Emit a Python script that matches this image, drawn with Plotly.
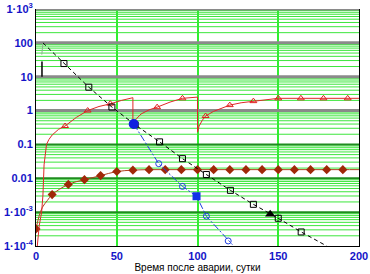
import plotly.graph_objects as go

# ---------------- data ----------------
# black dashed line with open squares
black_days = [4.3, 17.3, 32.7, 47.0, 61.4, 76.5, 90.7, 105.5, 120.4, 134.6, 150.0, 164.2, 180.0]
black_vals = [100, 24.5, 4.9, 1.27, 0.38, 0.119, 0.038, 0.0129, 4.4e-3, 1.7e-3, 6.6e-4, 2.6e-4, 1.0e-4]
black_sq_days = [17.3, 32.7, 47.0, 61.4, 76.5, 90.7, 105.5, 120.4, 134.6, 150.0, 164.2]
black_sq_vals = [24.5, 4.9, 1.27, 0.38, 0.119, 0.038, 0.0129, 4.4e-3, 1.7e-3, 6.6e-4, 2.6e-4]

# blue dash-dot line with open circles
blue_days = [60.5, 76.0, 90.7, 99.4, 105.5, 119.0, 121.6]
blue_vals = [0.4, 0.027, 5.75e-3, 2.95e-3, 7.6e-4, 1.41e-4, 1.1e-4]
blue_circ_days = [76.0, 90.7, 105.5, 119.0]
blue_circ_vals = [0.027, 5.75e-3, 7.6e-4, 1.41e-4]

# red sawtooth with open triangles
red_days = [0.8, 2, 3.5, 4.3, 5, 5.7, 6.5, 8, 10, 14, 18, 25, 32, 39, 46, 53, 58.6, 60, 60,
            62, 65, 70, 75, 83, 90.7, 100, 100, 101, 103, 105, 110, 115, 120, 127, 134.6,
            142, 150, 200]
red_vals = [1e-4, 4e-4, 1e-3, 3.2e-3, 0.025, 0.063, 0.1, 0.14, 0.19, 0.28, 0.35, 0.63, 1.0,
            1.32, 1.58, 2.0, 2.4, 2.4, 0.4, 0.56, 0.79, 1.05, 1.26, 1.78, 2.3, 2.5, 0.23,
            0.35, 0.52, 0.69, 0.95, 1.2, 1.45, 1.7, 1.9, 2.14, 2.3, 2.3]
red_tri_days = [18, 32, 46, 75, 90.7, 105, 120, 134.6, 150, 164, 178, 193]
red_tri_vals = [0.35, 1.0, 1.6, 1.26, 2.3, 0.69, 1.45, 1.9, 2.3, 2.3, 2.3, 2.3]

# brown line with filled diamonds
brown_days = [0, 2, 4, 7, 10, 20, 30, 40, 50, 60, 70, 80, 90, 100, 110, 120, 130, 140, 150,
              160, 170, 180, 190, 200]
brown_vals = [3.2e-4, 7.9e-4, 1.4e-3, 2.2e-3, 3.3e-3, 6.6e-3, 9.1e-3, 0.012, 0.0158, 0.0174,
              0.018, 0.018, 0.018, 0.018, 0.018, 0.018, 0.018, 0.018, 0.018, 0.018, 0.018,
              0.018, 0.018, 0.018]
brown_dia_days = [0, 10, 20, 30, 40, 50, 60, 70, 80, 90, 100, 110, 120, 130, 140, 150, 160,
                  170, 180, 190]
brown_dia_vals = [3.2e-4, 3.3e-3, 6.6e-3, 9.1e-3, 0.012, 0.0158, 0.0174, 0.018, 0.018, 0.018,
                  0.018, 0.018, 0.018, 0.018, 0.018, 0.018, 0.018, 0.018, 0.018, 0.018]

# special single markers
blue_dot = ([60.5], [0.4])
blue_square = ([99.4], [2.95e-3])
black_triangle = ([145.0], [8.7e-4])

# small black bar near the start
bar_days = [3.7, 3.7]
bar_vals = [10, 28]
thin_days = [4.3, 3.9, 3.6]
thin_vals = [100, 70, 45]

# axis ticks
x_range = [0, 200]
x_ticks = [0, 50, 100, 150, 200]
y_decades = [1e-4, 1e-3, 1e-2, 1e-1, 1, 10, 100, 1000]
y_labels = ["1·10<sup>-4</sup>", "1·10<sup>-3</sup>", "0.01", "0.1", "1", "10", "100",
            "1·10<sup>3</sup>"]
upper_decades = [1, 10, 100, 1000]
lower_decades = [1e-3, 1e-2, 1e-1]

# minor gridline values
minor_vals = []
for k in range(-4, 3):
    for m in range(2, 10):
        minor_vals.append(m * 10.0 ** k)

# ---------------- figure ----------------
fig = go.Figure()


def hline_trace(vals, color, width):
    xs, ys = [], []
    for v in vals:
        xs += [x_range[0], x_range[1], None]
        ys += [v, v, None]
    return go.Scatter(x=xs, y=ys, mode="lines", line=dict(color=color, width=width),
                      hoverinfo="skip", cliponaxis=True)


fig.add_trace(hline_trace(minor_vals, "#3ce63c", 1))
fig.add_trace(hline_trace(lower_decades, "#1f8c1f", 2))
fig.add_trace(hline_trace(upper_decades, "#8a8a8a", 3))

fig.add_trace(go.Scatter(x=thin_days, y=thin_vals, mode="lines",
                         line=dict(color="#90b090", width=1), hoverinfo="skip"))
fig.add_trace(go.Scatter(x=bar_days, y=bar_vals, mode="lines",
                         line=dict(color="black", width=1.5), hoverinfo="skip"))

fig.add_trace(go.Scatter(x=brown_days, y=brown_vals, mode="lines",
                         line=dict(color="#b04020", width=1, shape="spline")))
fig.add_trace(go.Scatter(x=brown_dia_days, y=brown_dia_vals, mode="markers",
                         marker=dict(symbol="diamond", size=7, color="#a02808",
                                     line=dict(width=0))))

fig.add_trace(go.Scatter(x=red_days, y=red_vals, mode="lines",
                         line=dict(color="#e02828", width=1)))
fig.add_trace(go.Scatter(x=red_tri_days, y=red_tri_vals, mode="markers",
                         marker=dict(symbol="triangle-up-open", size=6, color="#e02020",
                                     line=dict(width=1))))

fig.add_trace(go.Scatter(x=black_days, y=black_vals, mode="lines",
                         line=dict(color="black", width=1, dash="4px,3px")))
fig.add_trace(go.Scatter(x=black_sq_days, y=black_sq_vals, mode="markers",
                         marker=dict(symbol="square-open", size=6, color="black",
                                     line=dict(width=1))))

fig.add_trace(go.Scatter(x=blue_days, y=blue_vals, mode="lines",
                         line=dict(color="#2040e0", width=1, dash="7px,2px,2px,2px")))
fig.add_trace(go.Scatter(x=blue_circ_days, y=blue_circ_vals, mode="markers",
                         marker=dict(symbol="circle-open", size=6, color="#2040e0",
                                     line=dict(width=1))))

fig.add_trace(go.Scatter(x=blue_dot[0], y=blue_dot[1], mode="markers",
                         marker=dict(symbol="circle", size=10, color="#1020e0")))
fig.add_trace(go.Scatter(x=blue_square[0], y=blue_square[1], mode="markers",
                         marker=dict(symbol="square", size=8, color="#1030e8")))
fig.add_trace(go.Scatter(x=black_triangle[0], y=black_triangle[1], mode="markers",
                         marker=dict(symbol="triangle-up", size=9, color="black")))

tickfont = dict(family="Liberation Sans, Arial, sans-serif", size=11, color="#1414c8",
                weight="bold")

fig.update_layout(
    width=370, height=274,
    margin=dict(l=36, r=11, t=9, b=28),
    paper_bgcolor="white", plot_bgcolor="white",
    showlegend=False,
    xaxis=dict(range=x_range, tickvals=x_ticks, showgrid=True, gridcolor="#30ee30",
               gridwidth=2, zeroline=False, showline=True, linecolor="black", linewidth=1,
               ticks="", tickfont=tickfont, automargin=False,
               title=dict(text="Время после аварии, сутки",
                          font=dict(family="Liberation Sans, Arial, sans-serif", size=10,
                                    color="black"),
                          standoff=2)),
    yaxis=dict(type="log", range=[-4, 3], tickvals=y_decades, ticktext=y_labels,
               showgrid=False, zeroline=False, automargin=False,
               showline=True, linecolor="black", linewidth=1, mirror=True, ticks="",
               tickfont=tickfont),
)

fig.write_html("out.html", config={"displayModeBar": False},
               post_script="document.body.style.margin='0';document.body.style.overflow='hidden';")
